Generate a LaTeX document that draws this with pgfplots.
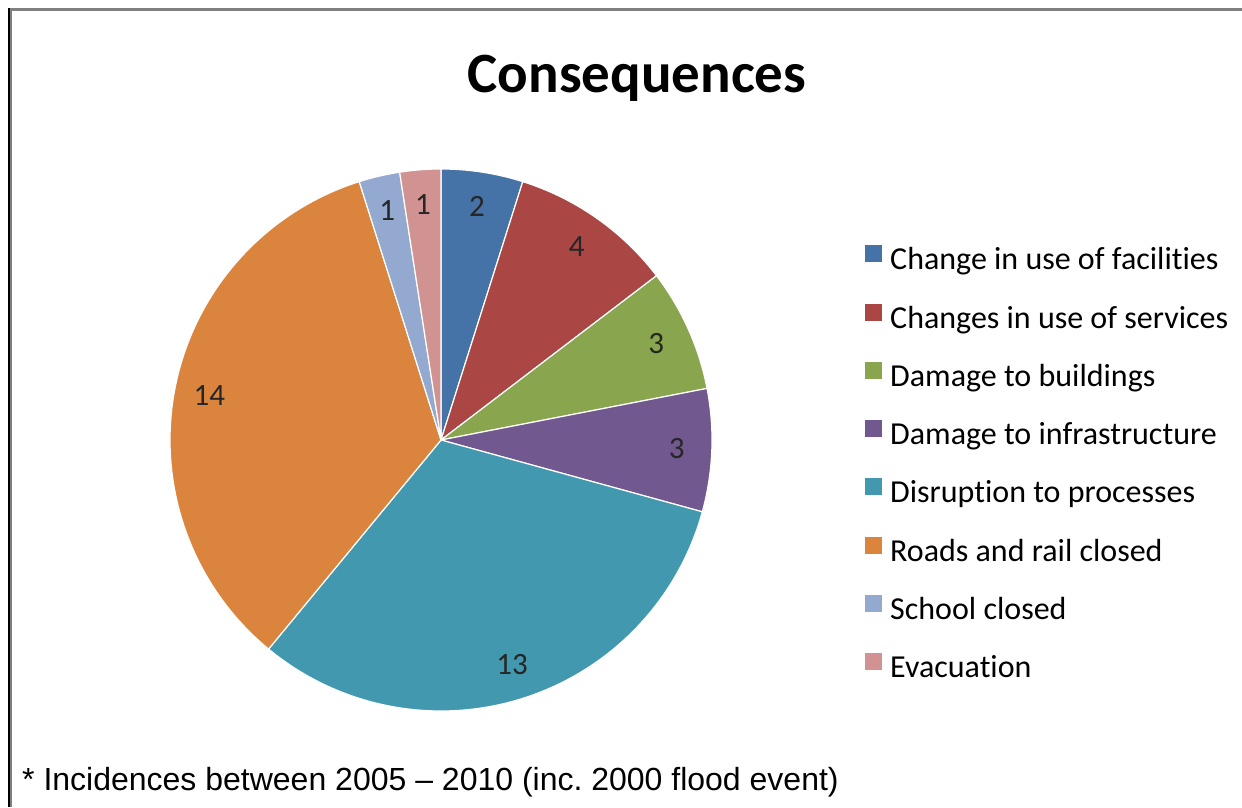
\documentclass[border=0pt]{standalone}
\usepackage{pgfplots}
\pgfplotsset{compat=1.18}
\usepackage{fontspec}
\setmainfont{Carlito}[Ligatures={TeX,NoCommon}]
\newfontfamily\arialfont{Liberation Sans}
\definecolor{c1}{HTML}{4572A7}
\definecolor{c2}{HTML}{AA4643}
\definecolor{c3}{HTML}{89A54E}
\definecolor{c4}{HTML}{71588F}
\definecolor{c5}{HTML}{4198AF}
\definecolor{c6}{HTML}{DB843D}
\definecolor{c7}{HTML}{93A9CF}
\definecolor{c8}{HTML}{D19392}
\definecolor{framegray}{HTML}{808080}
\frenchspacing
\begin{document}
\begin{tikzpicture}
% data values (clockwise from 12 o'clock)
\def\vA{2}\def\vB{4}\def\vC{3}\def\vD{3}\def\vE{13}\def\vF{14}\def\vG{1}\def\vH{1}
\pgfmathsetmacro\tot{\vA+\vB+\vC+\vD+\vE+\vF+\vG+\vH}
\pgfmathsetmacro\sA{90}
\pgfmathsetmacro\sB{\sA-360*\vA/\tot}
\pgfmathsetmacro\sC{\sB-360*\vB/\tot}
\pgfmathsetmacro\sD{\sC-360*\vC/\tot}
\pgfmathsetmacro\sE{\sD-360*\vD/\tot}
\pgfmathsetmacro\sF{\sE-360*\vE/\tot}
\pgfmathsetmacro\sG{\sF-360*\vF/\tot}
\pgfmathsetmacro\sH{\sG-360*\vG/\tot}
\pgfmathsetmacro\sI{\sH-360*\vH/\tot}
\pgfmathsetmacro\cx{441}
\pgfmathsetmacro\cy{367}
\pgfmathsetmacro\R{271}
\pgfmathsetmacro\L{236}
\path[use as bounding box] (0,0) rectangle (1242pt,807pt);
\begin{axis}[
  at={(0,0)}, anchor=south west,
  width=1242pt, height=807pt, scale only axis,
  xmin=0, xmax=1242, ymin=0, ymax=807,
  hide axis, clip=false,
  legend style={draw=none, fill=none, inner sep=0pt,
    at={(axis cs:865,562)}, anchor=north west,
    font=\fontsize{32}{32}\selectfont,
    nodes={text height=21pt, text depth=7pt, inner ysep=0pt, inner xsep=0pt},
    row sep=26.8pt, column sep=8pt},
  legend cell align=left,
  legend image code/.code={\fill[#1,draw=none] (0pt,0.5pt) rectangle (17pt,17.5pt);},
]
\addplot[fill=c1, draw=white, line width=1.2pt, line join=round, domain=\sB:\sA, samples=60] ({\cx+\R*cos(x)},{\cy+\R*sin(x)}) -- (axis cs:\cx,\cy) -- cycle;
\addlegendentry{Change in use of facilities}
\addplot[fill=c2, draw=white, line width=1.2pt, line join=round, domain=\sC:\sB, samples=60] ({\cx+\R*cos(x)},{\cy+\R*sin(x)}) -- (axis cs:\cx,\cy) -- cycle;
\addlegendentry{Changes in use of services}
\addplot[fill=c3, draw=white, line width=1.2pt, line join=round, domain=\sD:\sC, samples=60] ({\cx+\R*cos(x)},{\cy+\R*sin(x)}) -- (axis cs:\cx,\cy) -- cycle;
\addlegendentry{Damage to buildings}
\addplot[fill=c4, draw=white, line width=1.2pt, line join=round, domain=\sE:\sD, samples=60] ({\cx+\R*cos(x)},{\cy+\R*sin(x)}) -- (axis cs:\cx,\cy) -- cycle;
\addlegendentry{Damage to infrastructure}
\addplot[fill=c5, draw=white, line width=1.2pt, line join=round, domain=\sF:\sE, samples=120] ({\cx+\R*cos(x)},{\cy+\R*sin(x)}) -- (axis cs:\cx,\cy) -- cycle;
\addlegendentry{Disruption to processes}
\addplot[fill=c6, draw=white, line width=1.2pt, line join=round, domain=\sG:\sF, samples=120] ({\cx+\R*cos(x)},{\cy+\R*sin(x)}) -- (axis cs:\cx,\cy) -- cycle;
\addlegendentry{Roads and rail closed}
\addplot[fill=c7, draw=white, line width=1.2pt, line join=round, domain=\sH:\sG, samples=20] ({\cx+\R*cos(x)},{\cy+\R*sin(x)}) -- (axis cs:\cx,\cy) -- cycle;
\addlegendentry{School closed}
\addplot[fill=c8, draw=white, line width=1.2pt, line join=round, domain=\sI:\sH, samples=20] ({\cx+\R*cos(x)},{\cy+\R*sin(x)}) -- (axis cs:\cx,\cy) -- cycle;
\addlegendentry{Evacuation}
% slice labels
\begin{scope}[every node/.style={font=\fontsize{31}{31}\selectfont, text=black!85}]
\node at (axis cs:{\cx+\L*cos((\sA+\sB)/2)},{\cy+\L*sin((\sA+\sB)/2)}) {\vA};
\node at (axis cs:{\cx+\L*cos((\sB+\sC)/2)},{\cy+\L*sin((\sB+\sC)/2)}) {\vB};
\node at (axis cs:{\cx+\L*cos((\sC+\sD)/2)},{\cy+\L*sin((\sC+\sD)/2)}) {\vC};
\node at (axis cs:{\cx+\L*cos((\sD+\sE)/2)},{\cy+\L*sin((\sD+\sE)/2)}) {\vD};
\node at (axis cs:{\cx+\L*cos((\sE+\sF)/2)},{\cy+\L*sin((\sE+\sF)/2)}) {\vE};
\node at (axis cs:{\cx+\L*cos((\sF+\sG)/2)},{\cy+\L*sin((\sF+\sG)/2)}) {\vF};
\node at (axis cs:{\cx+\L*cos((\sG+\sH)/2)},{\cy+\L*sin((\sG+\sH)/2)}) {\vG};
\node at (axis cs:{\cx+\L*cos((\sH+\sI)/2)},{\cy+\L*sin((\sH+\sI)/2)}) {\vH};
\end{scope}
% title
\node[anchor=base, font=\bfseries\fontsize{57}{57}\selectfont] at (axis cs:637,714) {Consequences};
% footnote
\node[anchor=base west, inner sep=0pt, font=\arialfont\fontsize{32}{32}\selectfont] at (axis cs:22,17) {* Incidences between 2005 – 2010 (inc. 2000 flood event)};
% frame
\draw[framegray, line width=3pt] (axis cs:8,797.5) -- (axis cs:1242,797.5);
\draw[framegray, line width=2pt] (axis cs:11,0) -- (axis cs:11,799);
\draw[black, line width=1.5pt] (axis cs:8.75,0) -- (axis cs:8.75,799);
\end{axis}
\end{tikzpicture}
\end{document}
